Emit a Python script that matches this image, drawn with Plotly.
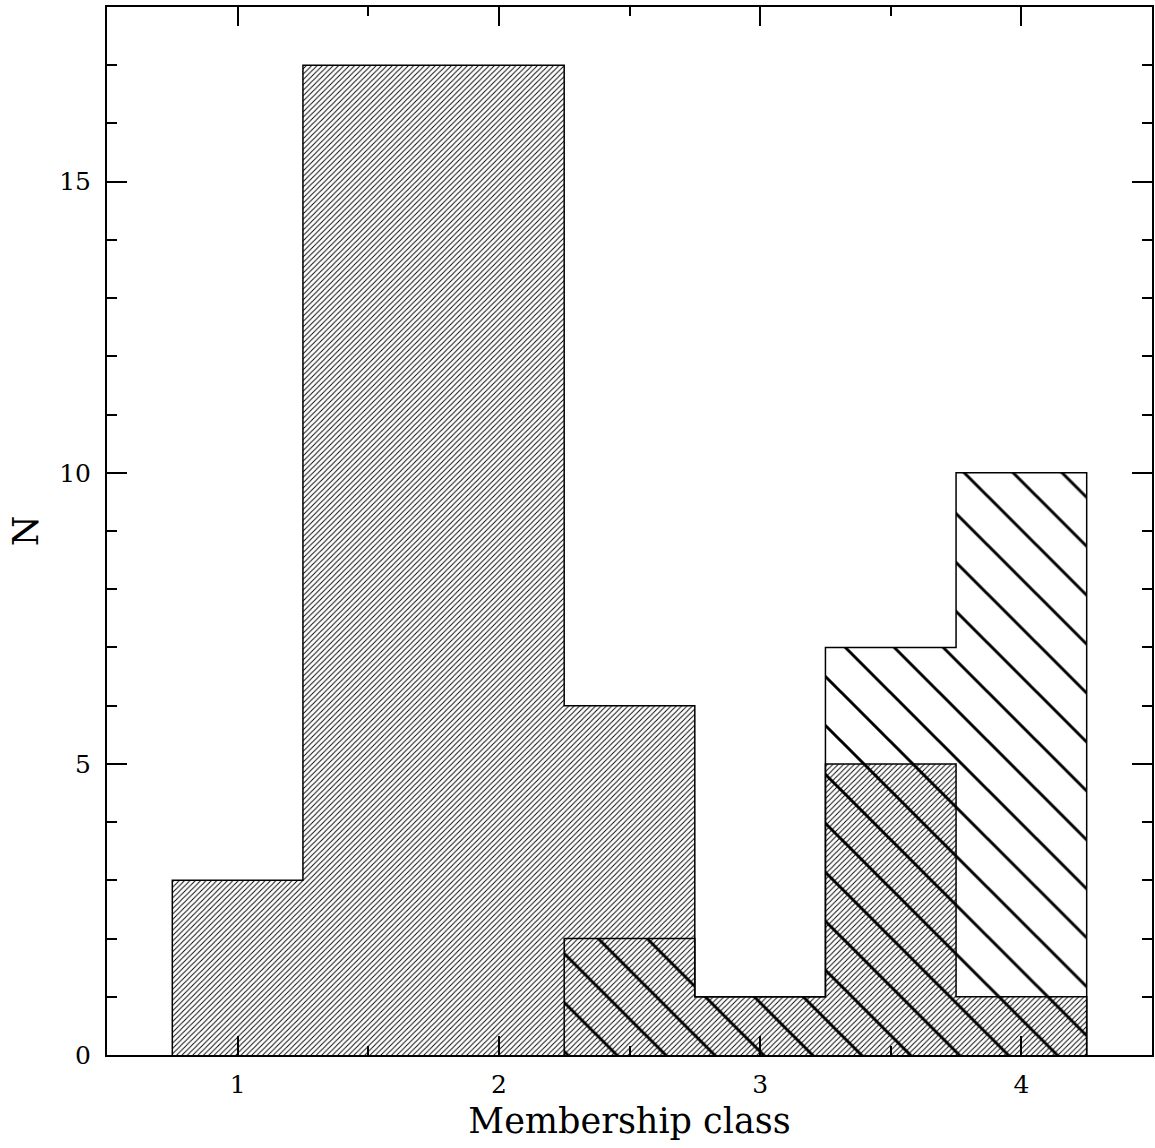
import plotly.graph_objects as go

# Data: histogram of membership classes (bins of width 0.5)
bin_width = 0.5
fine_centers = [1.0, 1.5, 2.0, 2.5, 3.0, 3.5, 4.0]
fine_counts = [3, 17, 17, 6, 1, 5, 1]
coarse_centers = [2.5, 3.0, 3.5, 4.0]
coarse_counts = [2, 1, 7, 10]

x_ticks = [1, 2, 3, 4]
y_ticks = [0, 5, 10, 15]
x_title = "Membership class"
y_title = "N"

FONT = "DejaVu Serif"


def step_outline(centers, counts, width):
    xs, ys = [], []
    xs.append(centers[0] - width / 2)
    ys.append(0)
    for c, n in zip(centers, counts):
        xs += [c - width / 2, c + width / 2]
        ys += [n, n]
    xs.append(centers[-1] + width / 2)
    ys.append(0)
    return xs, ys


fig = go.Figure()

fig.add_trace(go.Bar(
    x=fine_centers, y=fine_counts, width=bin_width,
    marker=dict(color="black", line=dict(width=0),
                pattern=dict(shape="/", size=3.8, solidity=0.24, fillmode="replace")),
    showlegend=False, hoverinfo="skip",
))
fig.add_trace(go.Bar(
    x=coarse_centers, y=coarse_counts, width=bin_width,
    marker=dict(color="black", line=dict(width=0),
                pattern=dict(shape="\\", size=34.6, solidity=0.085, fillmode="replace")),
    showlegend=False, hoverinfo="skip",
))

for cen, cnt in [(fine_centers, fine_counts), (coarse_centers, coarse_counts)]:
    xs, ys = step_outline(cen, cnt, bin_width)
    fig.add_trace(go.Scatter(x=xs, y=ys, mode="lines",
                             line=dict(color="black", width=1.5),
                             showlegend=False, hoverinfo="skip"))

fig.update_layout(
    width=1155, height=1148,
    margin=dict(l=107, r=1, t=7, b=93),
    paper_bgcolor="white", plot_bgcolor="white",
    barmode="overlay", bargap=0,
    font=dict(family=FONT, color="black", size=25),
)

fig.update_xaxes(
    range=[0.5, 4.5], tickvals=x_ticks, ticks="inside", ticklen=19, tickwidth=2,
    tickcolor="black", showline=True, linewidth=2, linecolor="black", mirror="ticks",
    showgrid=False, zeroline=False, ticklabelstandoff=6,
    tickfont=dict(family=FONT, size=25),
    minor=dict(dtick=0.5, ticks="inside", ticklen=9, tickwidth=2, tickcolor="black", showgrid=False),
    title=dict(text=x_title, font=dict(family=FONT, size=35), standoff=10),
)
fig.update_yaxes(
    range=[0, 18], tickvals=y_ticks, ticks="inside", ticklen=20, tickwidth=2,
    tickcolor="black", showline=True, linewidth=2, linecolor="black", mirror="ticks",
    showgrid=False, zeroline=False, ticklabelstandoff=9,
    tickfont=dict(family=FONT, size=25),
    minor=dict(dtick=1, ticks="inside", ticklen=10, tickwidth=2, tickcolor="black", showgrid=False),
    title=dict(text=y_title, font=dict(family=FONT, size=35), standoff=10),
)

fig.write_html("out.html")
